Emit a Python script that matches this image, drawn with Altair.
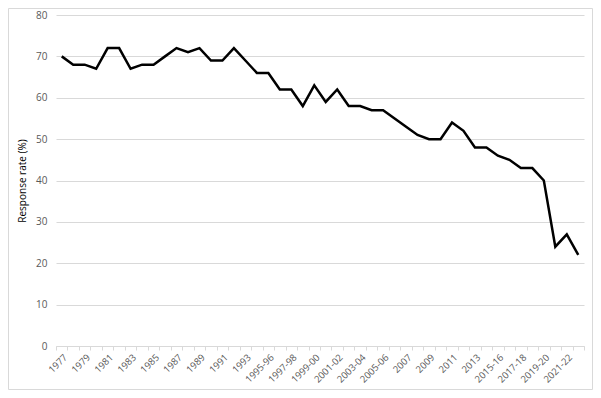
import altair as alt
import pandas as pd

years = [
    "1977", "1978", "1979", "1980", "1981", "1982", "1983", "1984", "1985", "1986",
    "1987", "1988", "1989", "1990", "1991", "1992", "1993", "1994-95", "1995-96",
    "1996-97", "1997-98", "1998-99", "1999-00", "2000-01", "2001-02", "2002-03",
    "2003-04", "2004-05", "2005-06", "2006", "2007", "2008", "2009", "2010", "2011",
    "2012", "2013", "2014", "2015-16", "2016-17", "2017-18", "2018-19", "2019-20",
    "2020-21", "2021-22", "2022-23",
]
response_rate = [
    70, 68, 68, 67, 72, 72, 67, 68, 68, 70,
    72, 71, 72, 69, 69, 72, 69, 66, 66,
    62, 62, 58, 63, 59, 62, 58,
    58, 57, 57, 55, 53, 51, 50, 50, 54,
    52, 48, 48, 46, 45, 43, 43, 40,
    24, 27, 22,
]
shown_labels = years[::2]

df = pd.DataFrame({"year": years, "rate": response_rate})

label_array = "[" + ",".join("'" + s + "'" for s in shown_labels) + "]"

W, H = 528, 331

line = alt.Chart(df).mark_line(color="black", strokeWidth=2.5, strokeJoin="miter").encode(
    x=alt.X(
        "year:N",
        sort=years,
        bandPosition=0.5,
        scale=alt.Scale(type="band", paddingInner=0, paddingOuter=0),
        axis=alt.Axis(
            title=None,
            labelAngle=-45,
            labelAlign="right",
            labelBaseline="top",
            labelExpr="indexof(" + label_array + ", datum.value) >= 0 ? datum.label : ''",
            labelFont="Open Sans",
            labelFontSize=9.5,
            labelColor="#595959",
            labelPadding=2,
            tickBand="extent",
            tickSize=4,
            tickColor="#d9d9d9",
            domainColor="#d9d9d9",
            grid=False,
            labelOverlap=False,
        ),
    ),
    y=alt.Y(
        "rate:Q",
        scale=alt.Scale(domain=[0, 80], nice=False),
        axis=alt.Axis(
            title="Response rate (%)",
            values=[0, 10, 20, 30, 40, 50, 60, 70, 80],
            labelFont="Open Sans",
            labelFontSize=10,
            labelColor="#595959",
            labelPadding=9,
            titleFont="Open Sans",
            titleFontSize=10,
            titleFontWeight="normal",
            titleColor="#000000",
            titlePadding=8,
            domain=False,
            ticks=False,
            gridColor="#d9d9d9",
            gridWidth=1,
        ),
    ),
)

border = alt.Chart(pd.DataFrame({"a": [0]})).mark_rect(
    fill=None, stroke="#d9d9d9", strokeWidth=1
).encode(
    x=alt.value(-47.5),
    x2=alt.value(W + 8.5),
    y=alt.value(-6.5),
    y2=alt.value(H + 43.5),
)

chart = alt.layer(border, line).properties(
    width=W,
    height=H,
    padding={"left": 48, "top": 7, "right": 9, "bottom": 44},
    autosize=alt.AutoSizeParams(type="none"),
).configure_view(stroke=None)

chart.save("out.html", embed_options={"renderer": "svg", "actions": False})
